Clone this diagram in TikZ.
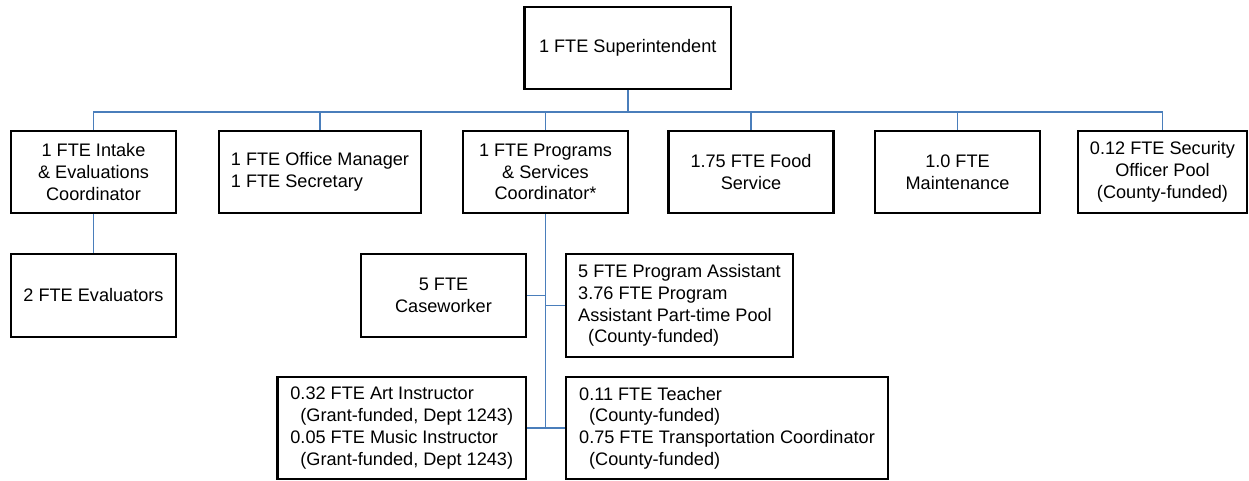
\documentclass[tikz,border=0pt]{standalone}
\usepackage{fontspec}
\setmainfont{Liberation Sans}
\usepackage{tikz}
\usetikzlibrary{positioning}
\definecolor{linkblue}{HTML}{4A7EBB}
\newcommand{\ind}{\hspace*{7.5pt}}
\tikzset{boxsize/.style 2 args={minimum width=#1*0.75pt,minimum height=#2*0.75pt}}

\begin{document}
\begin{tikzpicture}[x=0.75pt,y=-0.75pt,
    every node/.style={font=\fontsize{13.6}{16.3}\selectfont},
    box/.style={draw,line width=1.6pt,inner sep=0pt},
    link/.style={draw=linkblue,line width=1.2pt}]
    \useasboundingbox (0,0) rectangle (1249,481);

    \node [box,boxsize={206.5}{82},align=center] (sup)     at (627.75,48)   {1 FTE Superintendent};

    \node [box,boxsize={165}{82},align=center]   (intake)  at (93.5,172)    {1 FTE Intake\\\& Evaluations\\Coordinator};
    \node [box,boxsize={202}{82},align=left]     (office)  at (320,172)     {1 FTE Office Manager\\1 FTE Secretary};
    \node [box,boxsize={165}{82},align=center]   (progs)   at (545.5,172)   {1 FTE Programs\\\& Services\\Coordinator*};
    \node [box,boxsize={165}{82},align=center]   (food)    at (751,172)     {1.75 FTE Food\\Service};
    \node [box,boxsize={165}{82},align=center]   (maint)   at (957.5,172)   {1.0 FTE\\Maintenance};
    \node [box,boxsize={169}{82},align=center]   (secur)   at (1162.5,172)  {0.12 FTE Security\\Officer Pool\\(County-funded)};

    \node [box,boxsize={165}{83},align=center]   (eval)    at (93.5,295.5)  {2 FTE Evaluators};
    \node [box,boxsize={165}{83},align=center]   (casew)   at (443.5,295.5) {5 FTE\\Caseworker};
    \node [box,boxsize={227}{103},align=left]    (assist)  at (679.5,305.5) {5 FTE Program Assistant\\3.76 FTE Program\\Assistant Part-time Pool\\\ind(County-funded)};
    \node [box,boxsize={248.5}{102},align=left]  (art)     at (401.75,428)  {0.32 FTE Art Instructor\\\ind(Grant-funded, Dept 1243)\\0.05 FTE Music Instructor\\\ind(Grant-funded, Dept 1243)};
    \node [box,boxsize={322}{102},align=left]    (teacher) at (727,428)     {0.11 FTE Teacher\\\ind(County-funded)\\0.75 FTE Transportation Coordinator\\\ind(County-funded)};

    \coordinate (bar) at (627.75,112);
    \path [link] (sup.south) -- (bar);
    \foreach \n in {intake,office,progs,food,maint,secur}
        \path [link] (bar) -| (\n.north);
    \path [link] (intake.south) -- (eval.north);
    \path [link] (progs.south) -- (progs.south |- art.east);
    \path [link] (casew.east) -- (casew.east -| progs.south);
    \path [link] (assist.west) -- (assist.west -| progs.south);
    \path [link] (art.east) -- (art.east -| progs.south);
    \path [link] (teacher.west) -- (teacher.west -| progs.south);
\end{tikzpicture}
\end{document}
